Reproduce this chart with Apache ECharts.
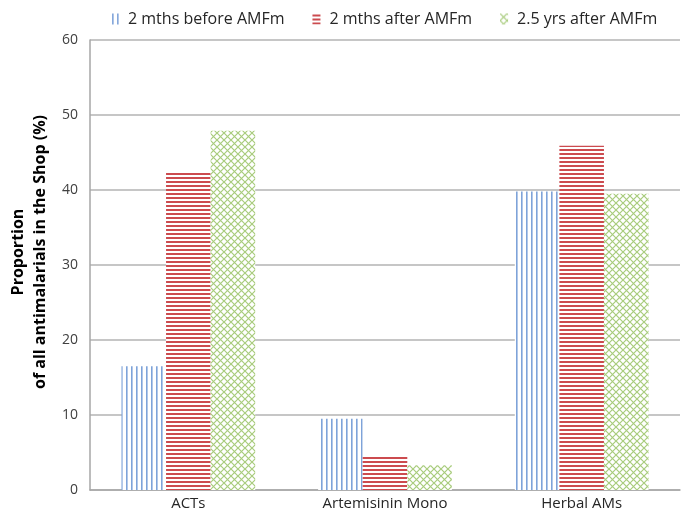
<!DOCTYPE html>
<html><head><meta charset="utf-8">
<script src="https://cdn.jsdelivr.net/npm/echarts@6/dist/echarts.min.js"></script>
<style>html,body{margin:0;padding:0;background:#fff}#c{width:681px;height:514px}</style>
</head><body><div id="c"></div>
<script>
var categories = ['ACTs', 'Artemisinin Mono', 'Herbal AMs'];
var seriesNames = ['2 mths before AMFm', '2 mths after AMFm', '2.5 yrs after AMFm'];
var before2m = [16.5, 9.5, 39.8];
var after2m = [42.4, 4.4, 45.9];
var after25y = [47.9, 3.3, 39.5];
var yTicks = [0, 10, 20, 30, 40, 50, 60];

function vertPattern(color) {
  var c = document.createElement('canvas'); c.width = 5; c.height = 5;
  var g = c.getContext('2d'); g.fillStyle = '#fff'; g.fillRect(0,0,5,5);
  g.fillStyle = color; g.fillRect(1, 0, 1.6, 5); return c;
}
function horizPattern(color) {
  var c = document.createElement('canvas'); c.width = 4; c.height = 4;
  var g = c.getContext('2d'); g.fillStyle = '#fff'; g.fillRect(0,0,4,4);
  g.fillStyle = color; g.fillRect(0, 1, 4, 2); return c;
}
function crossPattern(color) {
  var s = 7;
  var c = document.createElement('canvas'); c.width = s; c.height = s;
  var g = c.getContext('2d'); g.fillStyle = '#fff'; g.fillRect(0,0,s,s);
  g.strokeStyle = color; g.lineWidth = 1.2;
  g.beginPath();
  g.moveTo(-1, -1); g.lineTo(s + 1, s + 1);
  g.moveTo(s + 1, -1); g.lineTo(-1, s + 1);
  g.stroke(); return c;
}
var pats = [vertPattern('#7ea3d9'), horizPattern('#cc4b4f'), crossPattern('#a8cc7c')];
var dataSets = [before2m, after2m, after25y];

var chart = echarts.init(document.getElementById('c'));
var font = 'Open Sans';
chart.setOption({
  animation: false,
  textStyle: {fontFamily: font},
  legend: {
    top: 6, left: 106, width: 575,
    itemWidth: 8, itemHeight: 11, itemGap: 28,
    textStyle: {fontSize: 16, color: '#262626', fontFamily: font, padding: [0, 0, 0, 4]},
    data: seriesNames.map(function (n, i) { return {name: n, icon: 'rect'}; })
  },
  grid: {left: 90, right: 1, top: 40, bottom: 24, containLabel: false, outerBoundsMode: 'none'},
  xAxis: {
    type: 'category', data: categories,
    axisLine: {lineStyle: {color: '#a6a6a6', width: 1.5}},
    axisTick: {show: false},
    axisLabel: {fontSize: 15, color: '#262626', margin: 6}
  },
  yAxis: {
    type: 'value', min: yTicks[0], max: yTicks[yTicks.length - 1], interval: 10,
    name: 'Proportion\nof all antimalarials in the Shop (%)',
    nameLocation: 'middle', nameGap: 38,
    nameTextStyle: {fontSize: 16, fontWeight: 'bold', color: '#000', lineHeight: 22, fontFamily: font, padding: [0, 0, 0, 26]},
    axisLine: {show: true, lineStyle: {color: '#a6a6a6', width: 1.5}},
    axisTick: {show: false},
    splitLine: {lineStyle: {color: '#b3b3b3', width: 1.5}},
    axisLabel: {fontSize: 14, color: '#404040', margin: 12}
  },
  series: seriesNames.map(function (n, i) {
    return {
      name: n, type: 'bar', data: dataSets[i],
      barGap: '0%', barCategoryGap: '32%',
      itemStyle: {color: {image: pats[i], repeat: 'repeat'}}
    };
  })
});
</script></body></html>
